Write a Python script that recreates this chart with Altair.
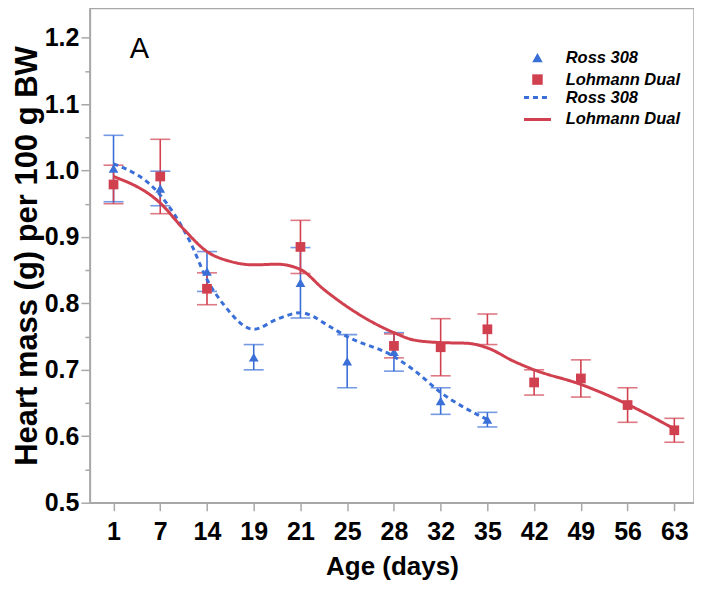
import altair as alt
import pandas as pd

# ---- data ----
DAYS = [1, 7, 14, 19, 21, 25, 28, 32, 35, 42, 49, 56, 63]
SERIES = ["Ross 308", "Lohmann Dual"]

ROSS_DAYS = [1, 7, 14, 19, 21, 25, 28, 32, 35]
ROSS_MEAN = [1.003, 0.973, 0.848, 0.719, 0.831, 0.713, 0.727, 0.653, 0.625]
ROSS_ERR = [0.050, 0.026, 0.030, 0.019, 0.053, 0.040, 0.029, 0.020, 0.011]

LOH_DAYS = [1, 7, 14, 21, 28, 32, 35, 42, 49, 56, 63]
LOH_MEAN = [0.979, 0.991, 0.822, 0.885, 0.736, 0.734, 0.761, 0.681, 0.687, 0.647, 0.609]
LOH_ERR = [0.029, 0.056, 0.024, 0.040, 0.018, 0.043, 0.023, 0.019, 0.028, 0.026, 0.018]

# smoothed fit curves (position on the category axis, value)
ROSS_FIT_POS = [0, 1, 1.65, 2, 2.36, 3, 3.49, 4, 4.28, 4.49, 5, 6, 6.42, 7, 8]
ROSS_FIT_VAL = [1.010, 0.963, 0.891, 0.836, 0.798, 0.761, 0.776, 0.786, 0.780, 0.771,
                0.750, 0.720, 0.700, 0.666, 0.625]
LOH_FIT_POS = [0, 1, 1.51, 2, 2.51, 3, 3.5, 4, 4.5, 5, 5.43, 6, 6.42, 7, 7.56, 8, 8.56,
               9, 10, 11, 12]
LOH_FIT_VAL = [0.991, 0.951, 0.911, 0.878, 0.863, 0.858, 0.859, 0.851, 0.821, 0.795,
               0.776, 0.756, 0.745, 0.741, 0.740, 0.733, 0.713, 0.700, 0.678, 0.648, 0.611]

BLUE = "#3B6FD8"
RED = "#D0404F"
FONT = "Liberation Sans, Arial"
GRAY = "#a8a8a8"

rows = []
for d, m, e in zip(ROSS_DAYS, ROSS_MEAN, ROSS_ERR):
    rows.append({"pos": DAYS.index(d), "mean": m, "lo": m - e, "hi": m + e, "series": SERIES[0]})
for d, m, e in zip(LOH_DAYS, LOH_MEAN, LOH_ERR):
    rows.append({"pos": DAYS.index(d), "mean": m, "lo": m - e, "hi": m + e, "series": SERIES[1]})
pts_df = pd.DataFrame(rows)

crows = []
for p, v in zip(ROSS_FIT_POS, ROSS_FIT_VAL):
    crows.append({"pos": p, "val": v, "series": SERIES[0]})
for p, v in zip(LOH_FIT_POS, LOH_FIT_VAL):
    crows.append({"pos": p, "val": v, "series": SERIES[1]})
fit_df = pd.DataFrame(crows)

label_arr = "[" + ",".join("'%d'" % d for d in DAYS) + "]"

xscale = alt.Scale(domain=[-0.506, 12.421], nice=False, zero=False)
yscale = alt.Scale(domain=[0.5, 1.244], nice=False, zero=False)

xaxis = alt.Axis(values=list(range(len(DAYS))), labelExpr=label_arr + "[datum.value]",
                 grid=False, tickSize=8, tickColor=GRAY, tickWidth=1.5,
                 domainColor=GRAY, domainWidth=1.5,
                 labelFont=FONT, labelFontSize=25, labelFontWeight="bold", labelColor="black",
                 labelPadding=9, titleFont=FONT, titleFontSize=26, titleFontWeight="bold",
                 titleColor="black", titlePadding=9)
major_test = "abs(datum.value*10 - round(datum.value*10)) < 0.001"
yaxis = alt.Axis(values=[round(0.5 + 0.05 * i, 2) for i in range(15)],
                 labelExpr=major_test + " ? format(datum.value, '.1f') : ''",
                 grid=False,
                 tickSize={"condition": {"test": major_test, "value": 9}, "value": 5},
                 tickColor=GRAY, tickWidth=1.5,
                 domainColor=GRAY, domainWidth=1.5,
                 labelFont=FONT, labelFontSize=25, labelFontWeight="bold", labelColor="black",
                 labelPadding=2, titleFont=FONT, titleFontSize=31, titleFontWeight="bold",
                 titleColor="black", titlePadding=1)

XT = "Age (days)"
YT = "Heart mass (g) per 100 g BW"


def X(field):
    return alt.X(field, type="quantitative", scale=xscale, axis=xaxis, title=XT)


def Y(field):
    return alt.Y(field, type="quantitative", scale=yscale, axis=yaxis, title=YT)


cscale = alt.Scale(domain=SERIES, range=[BLUE, RED])

rules = alt.Chart(pts_df).mark_rule(strokeWidth=1.6).encode(
    x=X("pos"), y=Y("lo"), y2="hi",
    color=alt.Color("series:N", scale=cscale, legend=None))

caps = alt.Chart(pts_df).transform_fold(["lo", "hi"], as_=["k", "v"]).mark_tick(
    orient="horizontal", size=20, thickness=1.6).encode(
    x=X("pos"), y=Y("v"),
    color=alt.Color("series:N", scale=cscale, legend=None))

line_legend = alt.Legend(title=None, orient="none", legendX=440, legendY=81,
                         symbolType="M-2.5,0H2.5", symbolSize=117, symbolStrokeWidth=3,
                         labelFont="Liberation Sans", labelFontSize=16.5, labelFontWeight="bold",
                         labelFontStyle="italic", labelColor="black", labelOffset=20,
                         rowPadding=5, padding=0)
lines = alt.Chart(fit_df).mark_line(strokeWidth=3, interpolate="monotone").encode(
    x=X("pos"), y=Y("val"),
    color=alt.Color("series:N", scale=cscale, legend=line_legend),
    strokeDash=alt.StrokeDash("series:N", scale=alt.Scale(domain=SERIES, range=[[5, 4], [1, 0]]),
                              legend=line_legend))

pt_legend = alt.Legend(title=None, orient="none", legendX=440, legendY=41,
                       symbolSize=110, symbolStrokeWidth=0,
                       labelFont="Liberation Sans", labelFontSize=16.5, labelFontWeight="bold",
                       labelFontStyle="italic", labelColor="black", labelOffset=20,
                       rowPadding=5, padding=0)
points = alt.Chart(pts_df).mark_point(filled=True, opacity=1, size=95).encode(
    x=X("pos"), y=Y("mean"),
    color=alt.Color("series:N", scale=cscale, legend=pt_legend),
    shape=alt.Shape("series:N", scale=alt.Scale(domain=SERIES, range=["triangle-up", "square"]),
                    legend=pt_legend))

label_a = alt.Chart(pd.DataFrame({"t": ["A"]})).mark_text(
    fontSize=29, font="Liberation Sans", align="left", baseline="alphabetic", color="black"
).encode(x=alt.value(40), y=alt.value(50), text="t:N")

chart = alt.layer(rules, caps, lines, points, label_a).resolve_scale(
    color="independent", shape="independent", strokeDash="independent"
).properties(
    width=605, height=495, padding={"left": 3, "top": 0, "right": 0, "bottom": 0}
).configure_view(stroke=GRAY, strokeWidth=1.5)

chart.save("out.html", embed_options={"renderer": "svg", "actions": False})
